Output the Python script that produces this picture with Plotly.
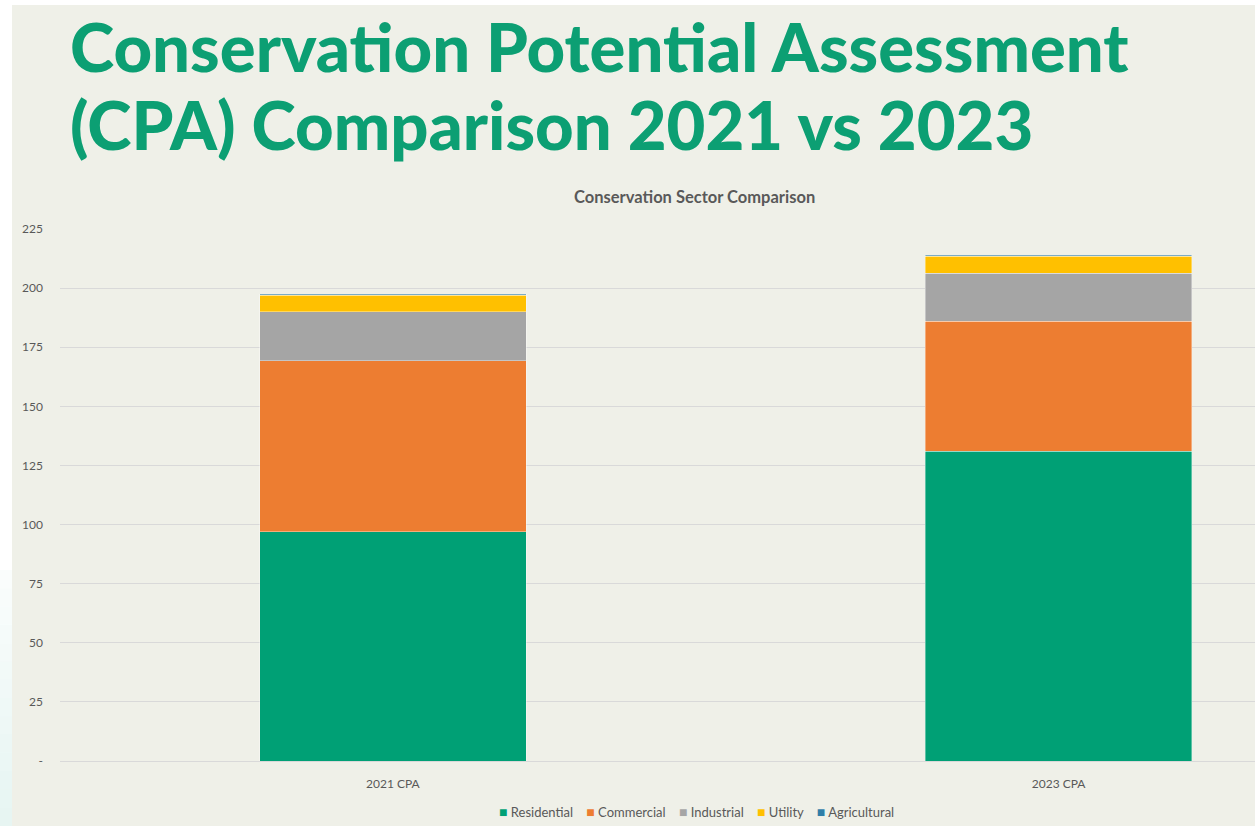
import plotly.graph_objects as go

# Conservation potential by sector for each assessment year
categories = ["2021 CPA", "2023 CPA"]
sectors = ["Residential", "Commercial", "Industrial", "Utility", "Agricultural"]
residential = [97.0, 131.0]
commercial = [72.3, 55.0]
industrial = [20.7, 20.2]
utility = [7.0, 7.2]
agricultural = [0.5, 0.6]

colors = ["#00A075", "#ED7D31", "#A5A5A5", "#FFC000", "#2F7EA8"]
tick_vals = [0, 25, 50, 75, 100, 125, 150, 175, 200, 225]
tick_text = ["-", "25", "50", "75", "100", "125", "150", "175", "200", "225"]

W, H = 1255, 826
PLOT_L, PLOT_R, PLOT_T, PLOT_B = 60, 1255, 229, 761
BG = "#EFF0E8"
GRID = "#D9D9D9"
LABEL = "#595959"


def px_x(px):
    return (px - PLOT_L) / (PLOT_R - PLOT_L)


def px_y(py):
    return (PLOT_B - py) / (PLOT_B - PLOT_T)


fig = go.Figure()
for name, vals, col in zip(sectors, [residential, commercial, industrial, utility, agricultural], colors):
    fig.add_trace(go.Bar(
        x=categories, y=vals, name=name,
        marker=dict(color=col, line=dict(color="rgba(255,255,255,0.45)", width=0.8)),
        width=0.4, showlegend=False,
    ))

shapes = [
    # white slide border on the top and left
    dict(type="rect", xref="paper", yref="paper", x0=px_x(0), x1=px_x(W), y0=px_y(5), y1=px_y(0),
         fillcolor="white", line_width=0, layer="above"),
    dict(type="rect", xref="paper", yref="paper", x0=px_x(0), x1=px_x(12), y0=px_y(H), y1=px_y(0),
         fillcolor="white", line_width=0, layer="above"),
]
# soft teal tint down the left edge
steps = 14
for i in range(steps):
    top = 570 + i * (H - 570) / steps
    bot = 570 + (i + 1) * (H - 570) / steps
    a = 0.03 + 0.15 * (i + 1) / steps
    shapes.append(dict(type="rect", xref="paper", yref="paper", x0=px_x(0), x1=px_x(12),
                       y0=px_y(bot), y1=px_y(top), fillcolor=f"rgba(120,200,185,{a:.3f})",
                       line_width=0, layer="above"))

# compact legend row: small coloured square right next to each sector name
gap = "&nbsp;" * 4
legend_text = gap.join(
    f"<span style='color:{c};font-size:14px'>■</span>&nbsp;{s}" for s, c in zip(sectors, colors)
)

title_font = dict(family="Lato", size=67, color="#0C9F73", weight=900)
annotations = [
    dict(text="Conservation Potential Assessment", xref="paper", yref="paper",
         x=px_x(68), y=px_y(4), xanchor="left", yanchor="top", showarrow=False, font=title_font),
    dict(text="(CPA) Comparison 2021 vs 2023", xref="paper", yref="paper",
         x=px_x(68), y=px_y(82), xanchor="left", yanchor="top", showarrow=False, font=title_font),
    dict(text="<b>Conservation Sector Comparison</b>", xref="paper", yref="paper",
         x=px_x(694), y=px_y(197), xanchor="center", yanchor="middle", showarrow=False,
         font=dict(family="Lato", size=16.5, color=LABEL)),
    dict(text=legend_text, xref="paper", yref="paper",
         x=px_x(696), y=px_y(811), xanchor="center", yanchor="middle", showarrow=False,
         font=dict(family="Lato", size=13, color=LABEL)),
]

fig.update_layout(
    width=W, height=H,
    margin=dict(l=PLOT_L, r=W - PLOT_R, t=PLOT_T, b=H - PLOT_B, pad=0),
    paper_bgcolor=BG, plot_bgcolor=BG,
    barmode="stack", bargap=0.6,
    font=dict(family="Lato", size=12, color=LABEL),
    shapes=shapes, annotations=annotations,
    showlegend=False,
    xaxis=dict(range=[-0.5, 1.295], showgrid=False, showline=True, linecolor=GRID, linewidth=1,
               ticks="", ticklabelstandoff=12, tickfont=dict(size=12, color=LABEL)),
    yaxis=dict(range=[0, 225], tickvals=tick_vals, ticktext=tick_text, showgrid=True,
               gridcolor=GRID, gridwidth=1, zeroline=False, showline=False, ticks="",
               ticklabelstandoff=16, tickfont=dict(size=12, color=LABEL)),
)

fig.write_html("out.html")
